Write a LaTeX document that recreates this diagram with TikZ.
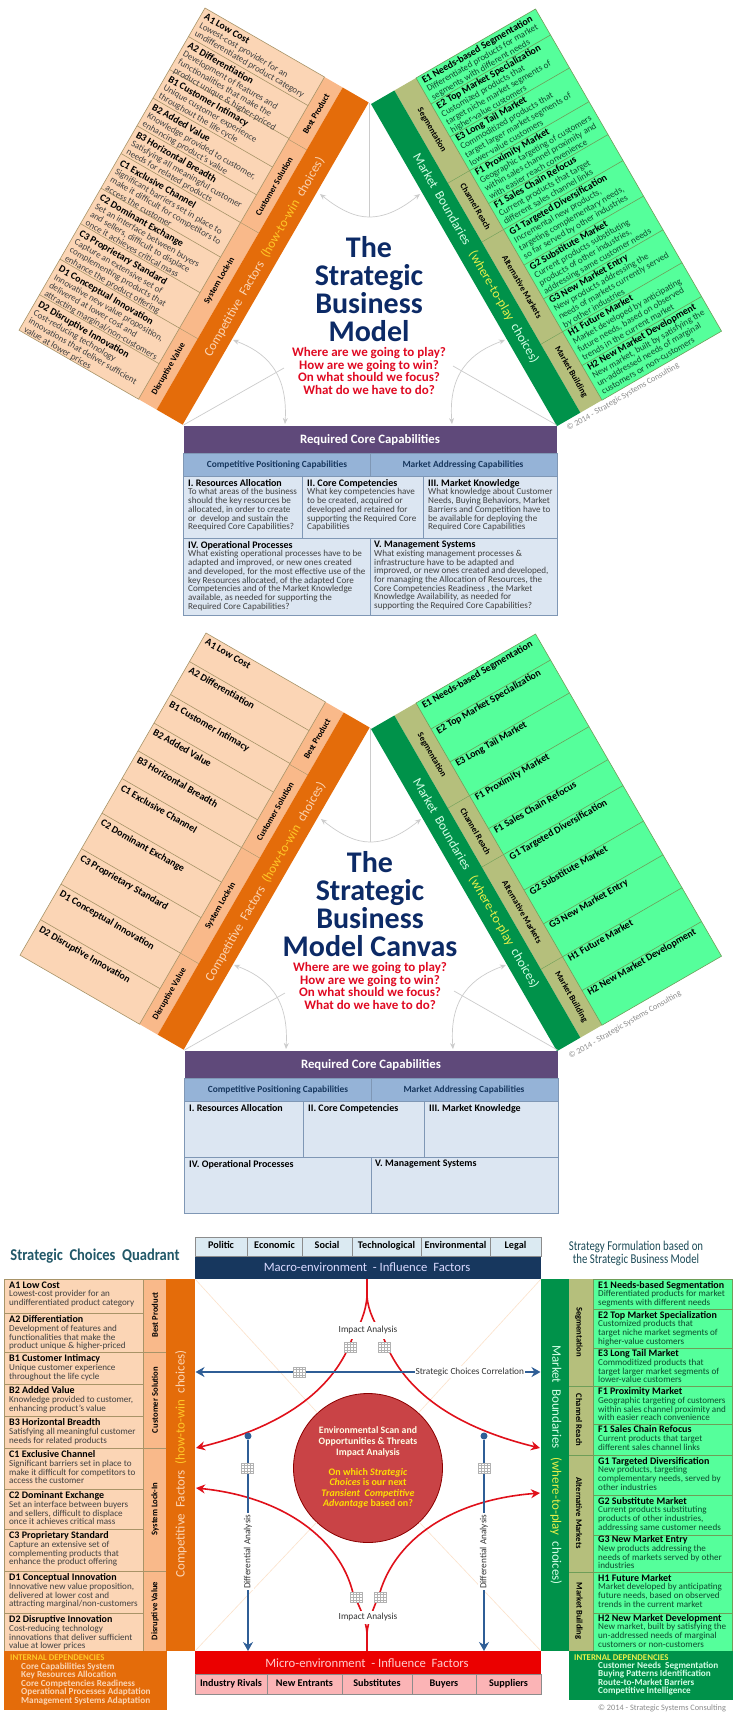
\documentclass[tikz,border=0pt]{standalone}
\usepackage{fontspec}
\setmainfont{Carlito}
\usepackage{xcolor}
\usetikzlibrary{arrows.meta}
\definecolor{peachrow}{HTML}{FBD5B5}
\definecolor{peachstrip}{HTML}{F9B98A}
\definecolor{orangebar}{HTML}{E46C0A}
\definecolor{peachline}{HTML}{A89468}
\definecolor{greenrow}{HTML}{55FF9B}
\definecolor{khakistrip}{HTML}{B5BF7C}
\definecolor{greenbar}{HTML}{00924A}
\definecolor{greenline}{HTML}{6E9E58}
\definecolor{greentxt}{HTML}{0C4A2C}
\definecolor{purplehead}{HTML}{5F497A}
\definecolor{bluehead}{HTML}{95B3D7}
\definecolor{bluecell}{HTML}{DCE6F2}
\definecolor{blueline}{HTML}{7F97B5}
\definecolor{navytitle}{HTML}{0C2A66}
\definecolor{redtxt}{HTML}{E00A22}
\definecolor{navybar}{HTML}{17375E}
\definecolor{macrocell}{HTML}{DBEAF2}
\definecolor{microcell}{HTML}{FBB4B6}
\definecolor{bluearrow}{HTML}{2F5E96}
\definecolor{redarrow}{HTML}{E0101A}
\definecolor{discfill}{HTML}{C94346}
\definecolor{tealtitle}{HTML}{215868}
\definecolor{howyellow}{HTML}{FFC828}
\definecolor{whereyellow}{HTML}{E8F04A}
\tikzset{
  rowtxt/.style={anchor=north west,align=left,inner sep=0pt,text=black!75,font=\fontsize{9.1}{8.7}\selectfont},
  wingtxt/.style={rowtxt,font=\fontsize{9.1}{9.5}\selectfont},
  greentxtnode/.style={rowtxt,text=greentxt},
  greenwing/.style={wingtxt,text=greentxt,font=\fontsize{9.1}{9.3}\selectfont},
  rowhd/.style={anchor=north west,inner sep=0pt,font=\fontsize{10}{10}\selectfont\bfseries},
  striptxt/.style={inner sep=0pt,font=\fontsize{8.6}{9}\selectfont\bfseries},
  bartxt/.style={inner sep=0pt,font=\fontsize{13}{14}\selectfont},
  softlink/.style={draw=black!20,line width=0.7pt},
  softarrow/.style={softlink,{Stealth[length=6pt,width=5pt]}-{Stealth[length=6pt,width=5pt]}},
  capcell/.style={fill=bluecell,draw=blueline,line width=0.6pt},
  toptxt/.style={inner sep=0pt,text height=7pt,text depth=2pt,font=\fontsize{10.2}{10}\selectfont\bfseries},
  gridmark/.style={draw=black!30,line width=0.3pt,step=3pt},
  redline/.style={draw=redarrow,line width=1.6pt},
  bluelink/.style={draw=bluearrow,line width=1.8pt},
  linktxt/.style={fill=white,inner xsep=1pt,inner ysep=2pt,text=black!80,font=\fontsize{9.3}{9}\selectfont},
  copytxt/.style={inner sep=0pt,text=black!45,font=\fontsize{8.3}{9}\selectfont}
}
\newcommand{\rowhead}[1]{{\fontsize{10}{8.7}\selectfont\bfseries\color{black}#1}}
\newcommand{\txtAa}{\rowhead{A1 Low Cost}\\Lowest-cost provider for an\\undifferentiated product category}
\newcommand{\txtAb}{\rowhead{A2 Differentiation}\\Development of features and\\functionalities that make the\\product unique \& higher-priced}
\newcommand{\txtBa}{\rowhead{B1 Customer Intimacy}\\Unique customer experience\\throughout the life cycle}
\newcommand{\txtBb}{\rowhead{B2 Added Value}\\Knowledge provided to customer,\\enhancing product's value}
\newcommand{\txtBc}{\rowhead{B3 Horizontal Breadth}\\Satisfying all meaningful customer\\needs for related products}
\newcommand{\txtCa}{\rowhead{C1 Exclusive Channel}\\Significant barriers set in place to\\make it difficult for competitors to\\access the customer}
\newcommand{\txtCb}{\rowhead{C2 Dominant Exchange}\\Set an interface between buyers\\and sellers, difficult to displace\\once it achieves critical mass}
\newcommand{\txtCc}{\rowhead{C3 Proprietary Standard}\\Capture an extensive set of\\complementing products that\\enhance the product offering}
\newcommand{\txtDa}{\rowhead{D1 Conceptual Innovation}\\Innovative new value proposition,\\delivered at lower cost and\\attracting marginal/non-customers}
\newcommand{\txtDb}{\rowhead{D2 Disruptive Innovation}\\Cost-reducing technology\\innovations that deliver sufficient\\value at lower prices}
\newcommand{\txtEa}{\rowhead{E1 Needs-based Segmentation}\\Differentiated products for market\\segments with different needs}
\newcommand{\txtEb}{\rowhead{E2 Top Market Specialization}\\Customized products that\\target niche market segments of\\higher-value customers}
\newcommand{\txtEc}{\rowhead{E3 Long Tail Market}\\Commoditized products that\\target larger market segments of\\lower-value customers}
\newcommand{\txtFa}{\rowhead{F1 Proximity Market}\\Geographic targeting of customers\\within sales channel proximity and\\with easier reach convenience}
\newcommand{\txtFb}{\rowhead{F1 Sales Chain Refocus}\\Current products that target\\different sales channel links}
\newcommand{\txtGb}{\rowhead{G2 Substitute Market}\\Current products substituting\\products of other industries,\\addressing same customer needs}
\newcommand{\txtHa}{\rowhead{H1 Future Market}\\Market developed by anticipating\\future needs, based on observed\\trends in the current market}
\newcommand{\txtHb}{\rowhead{H2 New Market Development}\\New market, built by satisfying the\\un-addressed needs of marginal\\customers or non-customers}
\newcommand{\howlabel}{Competitive\ \ Factors\ \ {\color{howyellow}(how-to-win}\ \ choices)}
\newcommand{\wherelabel}{Market\ \ Boundaries\ \ \ {\color{whereyellow}(where-to-play}\ \ choices)}
% wing frames, drawn in the rotated scope of each wing
\newcommand{\leftframe}[1]{
\fill[peachrow] (0,0) rectangle (138,372);
\fill[peachstrip] (138,0) rectangle (159,372);
\fill[orangebar] (159,0) rectangle (189,372);
\draw[peachline,line width=0.6pt] (0,0) rectangle (138,372);
\foreach \rowy in {33,71,104,136,168,208,249,290,331} \draw[peachline,line width=0.6pt] (0,\rowy) -- (138,\rowy);
\foreach \rowy in {72,168,290} \draw[peachline,line width=0.4pt] (138,\rowy) -- (159,\rowy);
\node[striptxt,rotate=90] (#1best) at (149,36) {Best Product};
\node[striptxt,rotate=90] (#1sol) at (149,120) {Customer Solution};
\node[striptxt,rotate=90] (#1lock) at (149,229) {System Lock-In};
\node[striptxt,rotate=90] (#1disr) at (149,331) {Disruptive Value};
\node[bartxt,rotate=90,text=peachrow] (#1how) at (176,186) {\howlabel};
}
\newcommand{\rightframe}[1]{
\fill[greenrow] (0,0) rectangle (138,372);
\fill[khakistrip] (-25,0) rectangle (0,372);
\fill[greenbar] (-52,0) rectangle (-25,372);
\draw[greenline,line width=0.6pt] (0,0) rectangle (138,372);
\foreach \rowy in {30,68,107,145,175,216,255,293,332} \draw[greenline,line width=0.6pt] (0,\rowy) -- (138,\rowy);
\foreach \rowy in {107,175,293} \draw[greenline,line width=0.4pt] (-25,\rowy) -- (0,\rowy);
\node[striptxt,rotate=-90] (#1seg) at (-12.5,53) {Segmentation};
\node[striptxt,rotate=-90] (#1chan) at (-12.5,141) {Channel Reach};
\node[striptxt,rotate=-90] (#1alt) at (-12.5,234) {Alternative Markets};
\node[striptxt,rotate=-90] (#1build) at (-12.5,332) {Market Building};
\node[bartxt,rotate=-90,text=greenrow!25!white] (#1where) at (-38.5,186) {\wherelabel};
}
\newcommand{\softlinks}[1]{
\coordinate (#1topa) at (369,103);
\coordinate (#1topb) at (369,217);
\coordinate (#1lefta) at (183.5,425);
\coordinate (#1leftb) at (284,368);
\coordinate (#1righta) at (556.5,425);
\coordinate (#1rightb) at (453,366);
\draw[softlink] (#1topa) -- (#1topb);
\draw[softlink] (#1lefta) -- (#1leftb);
\draw[softlink] (#1righta) -- (#1rightb);
\draw[softarrow] (320,194) .. controls (340,210) and (355,217) .. (#1topb) .. controls (385,217) and (400,210) .. (420,194);
\draw[softarrow] (233,340) .. controls (265,352) and (288,372) .. (285,424);
\draw[softarrow] (505,340) .. controls (472,352) and (448,372) .. (452,424);
}
\newcommand{\capframe}[3]{
\fill[purplehead] (183.5,426) rectangle (557,453);
\fill[bluehead] (183.5,453) rectangle (557,476);
\draw[blueline,line width=0.6pt] (183.5,453) rectangle (557,476) (370,453) -- (370,476);
\draw[capcell] (183.5,476) rectangle (302,#2);
\draw[capcell] (302,476) rectangle (423,#2);
\draw[capcell] (423,476) rectangle (557,#2);
\draw[capcell] (183.5,#2) rectangle (370,#3);
\draw[capcell] (370,#2) rectangle (557,#3);
\node[inner sep=0pt,text=white,font=\fontsize{12.8}{13}\selectfont\bfseries] (#1head) at (370,440) {Required\ Core\ Capabilities};
\node[inner sep=0pt,text=navybar,font=\fontsize{9.4}{9}\selectfont\bfseries] (#1posn) at (277,465) {Competitive\ Positioning\ Capabilities};
\node[inner sep=0pt,text=navybar,font=\fontsize{9.4}{9}\selectfont\bfseries] (#1addr) at (463,465) {Market\ Addressing\ Capabilities};
}
\begin{document}
\begin{tikzpicture}[x=1pt,y=-1pt]
\useasboundingbox (0,0) rectangle (736,1717);
\fill[white] (0,0) rectangle (736,1717);

\begin{scope}[shift={(205,8)},rotate=-30,transform shape]
\leftframe{a}
\node[wingtxt] (aa1) at (4,3.5) {\txtAa};
\node[wingtxt] (aa2) at (4,36) {\txtAb};
\node[wingtxt] (ab1) at (4,75) {\txtBa};
\node[wingtxt] (ab2) at (4,107.5) {\txtBb};
\node[wingtxt] (ab3) at (4,139.5) {\txtBc};
\node[wingtxt] (ac1) at (4,172) {\txtCa};
\node[wingtxt] (ac2) at (4,212) {\txtCb};
\node[wingtxt] (ac3) at (4,253) {\txtCc};
\node[wingtxt] (ad1) at (4,294) {\txtDa};
\node[wingtxt] (ad2) at (4,335) {\txtDb};
\end{scope}

\begin{scope}[shift={(416,78)},rotate=30,transform shape]
\rightframe{a}
\node[greenwing] (ae1) at (4,2) {\txtEa};
\node[greenwing] (ae2) at (4,31) {\txtEb};
\node[greenwing] (ae3) at (4,69) {\txtEc};
\node[greenwing] (af1) at (4,108) {\txtFa};
\node[greenwing] (af2) at (4,146) {\txtFb};
\node[greenwing] (ag1) at (4,176.5) {\rowhead{G1 Targeted Diversification}\\Incremental new products,\\targeting complementary needs,\\so far served by other industries};
\node[greenwing] (ag2) at (4,217) {\txtGb};
\node[greenwing] (ag3) at (4,256) {\rowhead{G3 New Market Entry}\\New products addressing the\\needs of markets currently served\\by other industries};
\node[greenwing] (ah1) at (4,294) {\txtHa};
\node[greenwing] (ah2) at (4,333) {\txtHb};
\end{scope}

\softlinks{a}
\node[align=center,inner sep=0pt,text=navytitle,font=\fontsize{30}{28}\selectfont\bfseries] (atitle) at (369,289) {The\\Strategic\\Business\\Model};
\node[align=center,inner sep=0pt,text=redtxt,font=\fontsize{13}{12.5}\selectfont\bfseries] (aask) at (369,371) {Where are we going to play?\\How are we going to win?\\On what should we focus?\\What do we have to do?};
\node[copytxt,rotate=30] (acopy) at (623,397) {© 2014 - Strategic Systems Consulting};
\capframe{a}{538}{615}
\node[rowtxt] (acell1) at (188,479) {\rowhead{I. Resources Allocation}\\To what areas of the business\\should the key resources be\\allocated, in order to create\\or\ \ develop and sustain the\\Reequired Core Capabilities?};
\node[rowtxt] (acell2) at (307,479) {\rowhead{II. Core Competencies}\\What key competencies have\\to be created, acquired or\\developed and retained for\\supporting the Required Core\\Capabilities};
\node[rowtxt] (acell3) at (428,479) {\rowhead{III. Market Knowledge}\\What knowledge about Customer\\Needs, Buying Behaviors, Market\\Barriers and Competition have to\\be available for deploying the\\Required Core Capabilities};
\node[rowtxt] (acell4) at (188,541) {\rowhead{IV. Operational Processes}\\What existing operational processes have to be\\adapted and improved, or new ones created\\and developed, for the most effective use of the\\key Resources allocated, of the adapted Core\\Competencies and of the Market Knowledge\\available, as needed for supporting the\\Required Core Capabilities?};
\node[rowtxt] (acell5) at (374,541) {\rowhead{V. Management Systems}\\What existing management processes \&\\infrastructure have to be adapted and\\improved, or new ones created and developed,\\for managing the Allocation of Resources, the\\Core Competencies Readiness , the Market\\Knowledge Availability, as needed for\\supporting the Required Core Capabilities?};

\begin{scope}[shift={(1,625)}]
\begin{scope}[shift={(205,8)},rotate=-30,transform shape]
\leftframe{b}
\node[rowhd] (ba1) at (4,3.5) {A1 Low Cost};
\node[rowhd] (ba2) at (4,36) {A2 Differentiation};
\node[rowhd] (bb1) at (4,75) {B1 Customer Intimacy};
\node[rowhd] (bb2) at (4,107.5) {B2 Added Value};
\node[rowhd] (bb3) at (4,139.5) {B3 Horizontal Breadth};
\node[rowhd] (bc1) at (4,172) {C1 Exclusive Channel};
\node[rowhd] (bc2) at (4,212) {C2 Dominant Exchange};
\node[rowhd] (bc3) at (4,253) {C3 Proprietary Standard};
\node[rowhd] (bd1) at (4,294) {D1 Conceptual Innovation};
\node[rowhd] (bd2) at (4,335) {D2 Disruptive Innovation};
\end{scope}
\begin{scope}[shift={(415,78)},rotate=30,transform shape]
\rightframe{b}
\node[rowhd] (be1) at (4,2) {E1 Needs-based Segmentation};
\node[rowhd] (be2) at (4,31) {E2 Top Market Specialization};
\node[rowhd] (be3) at (4,69) {E3 Long Tail Market};
\node[rowhd] (bf1) at (4,108) {F1 Proximity Market};
\node[rowhd] (bf2) at (4,146) {F1 Sales Chain Refocus};
\node[rowhd] (bg1) at (4,176.5) {G1 Targeted Diversification};
\node[rowhd] (bg2) at (4,217) {G2 Substitute Market};
\node[rowhd] (bg3) at (4,256) {G3 New Market Entry};
\node[rowhd] (bh1) at (4,294) {H1 Future Market};
\node[rowhd] (bh2) at (4,333) {H2 New Market Development};
\end{scope}
\softlinks{b}
\node[align=center,inner sep=0pt,text=navytitle,font=\fontsize{30}{28}\selectfont\bfseries] (btitle) at (369,279) {The\\Strategic\\Business\\Model Canvas};
\node[align=center,inner sep=0pt,text=redtxt,font=\fontsize{13}{12.5}\selectfont\bfseries] (bask) at (369,361) {Where are we going to play?\\How are we going to win?\\On what should we focus?\\What do we have to do?};
\node[copytxt,rotate=30] (bcopy) at (624,400) {© 2014 - Strategic Systems Consulting};
\capframe{b}{532}{588}
\node[rowhd] (bcell1) at (188,479) {I. Resources Allocation};
\node[rowhd] (bcell2) at (307,479) {II. Core Competencies};
\node[rowhd] (bcell3) at (428,479) {III. Market Knowledge};
\node[rowhd] (bcell4) at (188,535) {IV. Operational Processes};
\node[rowhd] (bcell5) at (374,535) {V. Management Systems};
\end{scope}

\node[inner sep=0pt,xscale=.88,transform shape,text=tealtitle,font=\fontsize{16.5}{17}\selectfont\bfseries] (ctitlel) at (95,1256) {Strategic\ \ Choices\ \ Quadrant};
\node[align=center,inner sep=0pt,xscale=.8,transform shape,text=tealtitle!85!black,font=\fontsize{13.5}{13}\selectfont] (ctitler) at (636,1253) {Strategy Formulation based on\\the Strategic Business Model};

\fill[peachrow] (4,1279) rectangle (143,1651);
\fill[peachstrip] (143,1279) rectangle (166,1651);
\fill[orangebar] (166,1279) rectangle (195,1651);
\draw[peachline,line width=0.6pt] (4,1279) rectangle (143,1651);
\foreach \rowy in {1313,1352,1384,1416,1448,1489,1529,1571,1613} \draw[peachline,line width=0.6pt] (4,\rowy) -- (143,\rowy);
\foreach \rowy in {1352,1448,1571} \draw[peachline,line width=0.4pt] (143,\rowy) -- (166,\rowy);
\draw[peachline,line width=0.4pt] (143,1279) -- (166,1279);
\node[rowtxt] (ca1) at (9,1281.5) {\txtAa};
\node[rowtxt] (ca2) at (9,1315.5) {\txtAb};
\node[rowtxt] (cb1) at (9,1354.5) {\txtBa};
\node[rowtxt] (cb2) at (9,1386.5) {\txtBb};
\node[rowtxt] (cb3) at (9,1418.5) {\txtBc};
\node[rowtxt] (cc1) at (9,1450.5) {\txtCa};
\node[rowtxt] (cc2) at (9,1491.5) {\txtCb};
\node[rowtxt] (cc3) at (9,1531.5) {\txtCc};
\node[rowtxt] (cd1) at (9,1573.5) {\txtDa};
\node[rowtxt] (cd2) at (9,1615.5) {\txtDb};
\node[striptxt,rotate=90] (cbest) at (155,1315) {Best Product};
\node[striptxt,rotate=90] (csol) at (155,1400) {Customer Solution};
\node[striptxt,rotate=90] (clock) at (155,1509) {System Lock-In};
\node[striptxt,rotate=90] (cdisr) at (155,1611) {Disruptive Value};
\node[bartxt,rotate=90,text=peachrow] (chow) at (181,1464) {\howlabel};

\fill[orangebar] (4,1651) rectangle (167,1710);
\node[inner sep=0pt,anchor=west,text=howyellow,font=\fontsize{8.8}{9}\selectfont\bfseries] (cinta) at (10,1658) {INTERNAL DEPENDENCIES};
\node[anchor=north west,align=left,inner sep=0pt,text=peachrow,font=\fontsize{9.2}{8.6}\selectfont\bfseries] (cintb) at (21,1662.5) {Core Capabilities System\\Key Resources Allocation\\Core Competencies Readiness\\Operational Processes Adaptation\\Management Systems Adaptation};

\fill[greenrow] (593,1279) rectangle (732,1651);
\fill[khakistrip] (569,1279) rectangle (593,1651);
\fill[greenbar] (541,1279) rectangle (569,1651);
\draw[greenline,line width=0.6pt] (593,1279) rectangle (732,1651);
\foreach \rowy in {1309,1348,1386,1424,1455,1495,1535,1572,1613} \draw[greenline,line width=0.6pt] (593,\rowy) -- (732,\rowy);
\foreach \rowy in {1386,1455,1572} \draw[greenline,line width=0.4pt] (569,\rowy) -- (593,\rowy);
\node[greentxtnode] (ce1) at (598,1281) {\txtEa};
\node[greentxtnode] (ce2) at (598,1311) {\txtEb};
\node[greentxtnode] (ce3) at (598,1349.5) {\txtEc};
\node[greentxtnode] (cf1) at (598,1387.5) {\txtFa};
\node[greentxtnode] (cf2) at (598,1425.5) {\txtFb};
\node[greentxtnode] (cg1) at (598,1457) {\rowhead{G1 Targeted Diversification}\\New products, targeting\\complementary needs, served by\\other industries};
\node[greentxtnode] (cg2) at (598,1497) {\txtGb};
\node[greentxtnode] (cg3) at (598,1535.5) {\rowhead{G3 New Market Entry}\\New products addressing the\\needs of markets served by other\\industries};
\node[greentxtnode] (ch1) at (598,1574) {\txtHa};
\node[greentxtnode] (ch2) at (598,1614) {\txtHb};
\node[striptxt,rotate=-90] (cseg) at (579,1332) {Segmentation};
\node[striptxt,rotate=-90] (cchan) at (579,1420) {Channel Reach};
\node[striptxt,rotate=-90] (calt) at (579,1513) {Alternative Markets};
\node[striptxt,rotate=-90] (cbuild) at (579,1611) {Market Building};
\node[bartxt,rotate=-90,text=greenrow!25!white] (cwhere) at (556,1465) {\wherelabel};

\fill[greenbar] (569,1651) rectangle (733,1700);
\node[inner sep=0pt,anchor=west,text=whereyellow,font=\fontsize{8.8}{9}\selectfont\bfseries] (cinte) at (574,1658) {INTERNAL DEPENDENCIES};
\node[anchor=north west,align=left,inner sep=0pt,text=greenrow!25!white,font=\fontsize{9.2}{8.6}\selectfont\bfseries] (cintf) at (598,1661.5) {Customer Needs\ \ Segmentation\\Buying Patterns Identification\\Route-to-Market Barriers\\Competitive Intelligence};
\node[copytxt] (ccopy) at (662,1708) {© 2014 - Strategic Systems Consulting};

% macro and micro bars
\fill[navybar] (195,1256) rectangle (541,1279);
\fill[macrocell] (195,1237) rectangle (541,1256);
\draw[black!45,line width=0.6pt] (195,1237) rectangle (541,1256) (247,1237) -- (247,1256) (302,1237) -- (302,1256) (352,1237) -- (352,1256) (421,1237) -- (421,1256) (490,1237) -- (490,1256);
\node[toptxt] (cpol) at (221,1246) {Politic};
\node[toptxt] (ceco) at (274.5,1246) {Economic};
\node[toptxt] (csoc) at (327,1246) {Social};
\node[toptxt] (ctec) at (386.5,1246) {Technological};
\node[toptxt] (cenv) at (455.5,1246) {Environmental};
\node[toptxt] (cleg) at (515.5,1246) {Legal};
\node[inner sep=0pt,text=blue!15!white,font=\fontsize{12.7}{13}\selectfont] (cmacro) at (367,1267) {Macro-environment\ \ - Influence\ \ Factors};
\fill[red!92!black] (195,1651) rectangle (541,1674);
\fill[microcell] (195,1674) rectangle (541,1694);
\draw[black!45,line width=0.6pt] (195,1674) rectangle (541,1694) (267,1674) -- (267,1694) (342,1674) -- (342,1694) (412,1674) -- (412,1694) (476,1674) -- (476,1694);
\node[toptxt] (criv) at (231,1684) {Industry Rivals};
\node[toptxt] (cent) at (304.5,1684) {New Entrants};
\node[toptxt] (csub) at (377,1684) {Substitutes};
\node[toptxt] (cbuy) at (444,1684) {Buyers};
\node[toptxt] (csup) at (508.5,1684) {Suppliers};
\node[inner sep=0pt,text=red!20!white,font=\fontsize{12.7}{13}\selectfont] (cmicro) at (367,1663) {Micro-environment\ \ - Influence\ \ Factors};

% middle of the quadrant
\coordinate (quadtl) at (195,1279);
\coordinate (quadtr) at (541,1279);
\coordinate (quadbl) at (195,1651);
\coordinate (quadbr) at (541,1651);
\node[circle,minimum size=149pt,inner sep=0pt,fill=discfill,draw=red!55!black,line width=0.8pt] (cdisc) at (368,1468) {};
\draw[peachrow!70,line width=0.6pt] (quadtl) -- (cdisc);
\draw[peachrow!70,line width=0.6pt] (quadtr) -- (cdisc);
\draw[peachrow!70,line width=0.6pt] (quadbl) -- (cdisc);
\draw[peachrow!70,line width=0.6pt] (quadbr) -- (cdisc);
\node[align=center,inner sep=0pt,text=white!90!yellow,font=\fontsize{9.8}{10.9}\selectfont\bfseries] (cscan) at (368,1442) {Environmental Scan and\\Opportunities \& Threats\\Impact Analysis};
\node[align=center,inner sep=0pt,text=yellow!80!orange,font=\fontsize{10}{10.4}\selectfont\bfseries] (cquery) at (368,1488.5) {On which \textit{Strategic}\\\textit{Choices} is our next\\\textit{Transient\ \ Competitive}\\\textit{Advantage} based on?};

\coordinate (macrostem) at (367,1279);
\coordinate (macrofork) at (367,1296);
\coordinate (microstem) at (367,1651);
\coordinate (microfork) at (367,1633);
\draw[redline] (macrostem) -- (macrofork);
\draw[redline] (microstem) -- (microfork);
\draw[redline,-{Stealth[length=9pt,width=9pt]}] (macrofork) .. controls (366,1312) and (360,1325) .. (352,1339) .. controls (335,1385) and (290,1425) .. (196,1448);
\draw[redline,-{Stealth[length=9pt,width=9pt]}] (macrofork) .. controls (368,1312) and (376,1325) .. (384,1339) .. controls (401,1385) and (446,1425) .. (540,1448);
\draw[redline,-{Stealth[length=9pt,width=9pt]}] (microfork) .. controls (366,1620) and (360,1608) .. (353,1593) .. controls (340,1540) and (285,1497) .. (196,1488);
\draw[redline,-{Stealth[length=9pt,width=9pt]}] (microfork) .. controls (368,1620) and (374,1608) .. (380,1592) .. controls (396,1540) and (450,1500) .. (540,1493);
\node[linktxt,minimum height=17pt] (cimpa) at (368,1330) {Impact Analysis};
\node[linktxt,minimum height=13pt] (cimpb) at (368,1617) {Impact Analysis};

\coordinate (corrl) at (195.5,1372);
\coordinate (corrr) at (540.5,1372);
\draw[bluelink,{Stealth[length=9pt,width=10pt]}-{Stealth[length=9pt,width=10pt]}] (corrl) -- (corrr) node[linktxt,pos=0.795] (ccorr) {Strategic Choices Correlation};
\node[circle,fill=bluearrow,inner sep=0pt,minimum size=7pt] (cdotl) at (248,1436) {};
\node[circle,fill=bluearrow,inner sep=0pt,minimum size=7pt] (cdotr) at (484,1436) {};
\coordinate (diffl) at (248,1651);
\coordinate (diffr) at (484,1651);
\draw[bluelink,-{Stealth[length=9pt,width=10pt]}] (cdotl) -- (diffl) node[linktxt,rotate=90,pos=0.53] (cdiffa) {Differential Analysis};
\draw[bluelink,-{Stealth[length=9pt,width=10pt]}] (cdotr) -- (diffr) node[linktxt,rotate=90,pos=0.53] (cdiffb) {Differential Analysis};

\foreach \gx/\gy in {350/1347,384/1347,299/1372,247/1468,484/1468,356/1597,380/1597} {
  \fill[white] (\gx-6,\gy-5) rectangle (\gx+6,\gy+5);
  \draw[gridmark,shift={(\gx,\gy)}] (-6,-5) grid (6,5);
  \draw[black!30,line width=0.3pt] (\gx-6,\gy-5) rectangle (\gx+6,\gy+5);
}
\end{tikzpicture}
\end{document}
